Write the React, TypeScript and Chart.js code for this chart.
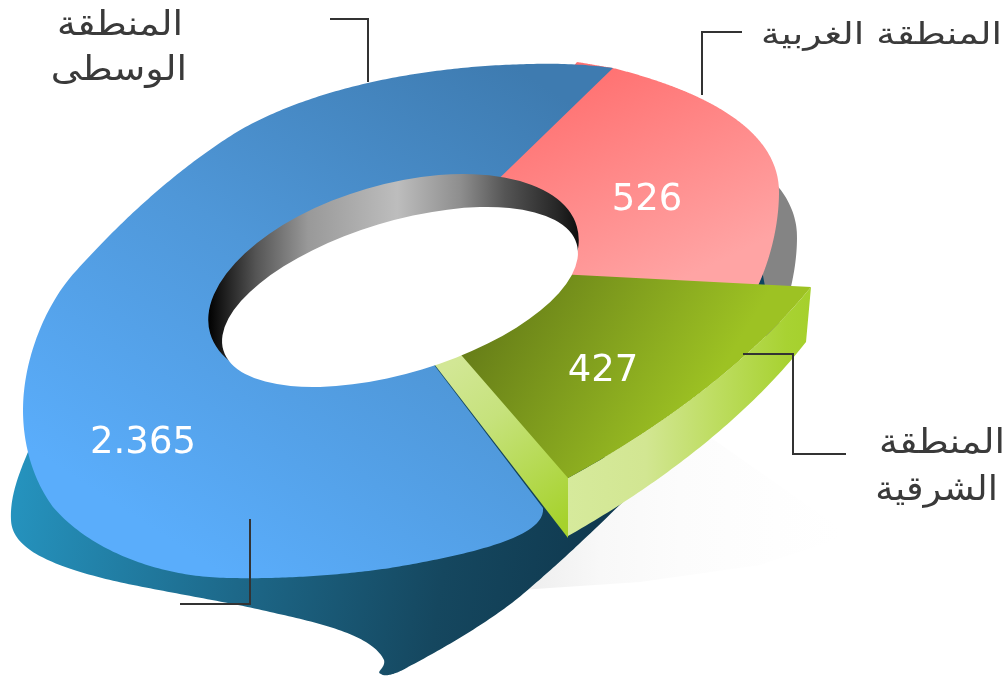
import React, { useEffect, useRef } from "react";
import { Chart, registerables } from "chart.js";

Chart.register(...registerables);

// ---- data ----
const regionKeys = ["west", "central", "east"];
const regionLabels = ["المنطقة الغربية", "المنطقة الوسطى", "المنطقة الشرقية"];
const regionValues = [526, 2365, 427];

// ---- text ----
const W = 1007;
const H = 679;
const labelFont = '400 34px "DejaVu Sans Condensed"';
const labelFontSmall = '400 30px "DejaVu Sans Condensed"';
const labelLines = [
  { text: "المنطقة الغربية", right: 1002, y: 36, font: labelFontSmall, stretch: 1.4 },
  { text: "المنطقة", right: 183, y: 26, font: labelFont, stretch: 1.24 },
  { text: "الوسطى", right: 187, y: 71, font: labelFont, stretch: 1.24 },
  { text: "المنطقة", right: 1005, y: 444, font: labelFont, stretch: 1.24 },
  { text: "الشرقية", right: 998, y: 491, font: labelFont, stretch: 1.2 },
];
const valueAnchors = [
  { x: 647, y: 200 },
  { x: 143, y: 443 },
  { x: 603, y: 371 },
];

// ---- perspective surface: where each slice's centre and rim land on the page.
// The library's arc angles pick the position along each rim.
// Rims are cubic Bezier chains: p0, c1, c2, p1, c1, c2, p2 ...
type P = [number, number];
const sliceCentres: P[] = [
  [413, 265],
  [380, 294],
  [383, 265],
];
const sliceRims: P[][] = [
  [
    [577, 62], [590, 64], [600, 66], [613, 68],
    [680, 85], [779, 120], [779, 192],
    [779, 225], [770, 262], [755, 292],
  ],
  [
    [543, 508], [546, 535], [480, 553], [390, 568],
    [335, 576], [280, 579], [230, 578],
    [150, 577], [85, 545], [53, 507],
    [33, 480], [23, 445], [23, 410],
    [23, 360], [45, 305], [75, 272],
    [120, 222], [175, 170], [240, 130],
    [320, 85], [430, 66], [530, 64],
    [565, 63], [590, 65], [613, 68],
  ],
  [[811, 287], [750, 362], [660, 428], [568, 478]],
];
const leaderLines: P[][] = [
  [[330, 19], [368, 19], [368, 82]],
  [[742, 32], [702, 32], [702, 95]],
  [[743, 354], [793, 354], [793, 454], [846, 454]],
  [[250, 519], [250, 604], [180, 604]],
];
const underside: P[] = [
  [28, 452], [16, 480], [10, 500], [11, 520],
  [12, 545], [40, 562], [102, 578],
  [150, 590], [220, 600], [270, 612],
  [320, 623], [372, 635], [384, 660],
  [386, 668], [375, 672], [381, 674],
  [386, 678], [400, 672], [408, 667],
  [450, 645], [500, 615], [530, 588],
  [560, 562], [590, 535], [650, 475],
];

function sampleBezier(pts: P[], perSeg = 40): P[] {
  const out: P[] = [pts[0]];
  for (let i = 0; i + 3 < pts.length; i += 3) {
    const [a, b, c, d] = [pts[i], pts[i + 1], pts[i + 2], pts[i + 3]];
    for (let k = 1; k <= perSeg; k++) {
      const u = k / perSeg;
      const v = 1 - u;
      const w0 = v * v * v;
      const w1 = 3 * v * v * u;
      const w2 = 3 * v * u * u;
      const w3 = u * u * u;
      out.push([w0 * a[0] + w1 * b[0] + w2 * c[0] + w3 * d[0], w0 * a[1] + w1 * b[1] + w2 * c[1] + w3 * d[1]]);
    }
  }
  return out;
}

const rimCache = new Map<P[], { line: P[]; total: number; seg: number[] }>();
function rimPoint(pts: P[], t: number): P {
  let c = rimCache.get(pts);
  if (!c) {
    const line = sampleBezier(pts);
    const seg: number[] = [];
    let total = 0;
    for (let i = 0; i + 1 < line.length; i++) {
      const l = Math.hypot(line[i + 1][0] - line[i][0], line[i + 1][1] - line[i][1]);
      seg.push(l);
      total += l;
    }
    c = { line, total, seg };
    rimCache.set(pts, c);
  }
  let s = Math.min(Math.max(t, 0), 1) * c.total;
  let i = 0;
  while (i < c.seg.length - 1 && s > c.seg[i]) {
    s -= c.seg[i];
    i++;
  }
  const u = c.seg[i] ? Math.min(s / c.seg[i], 1) : 0;
  return [
    c.line[i][0] + (c.line[i + 1][0] - c.line[i][0]) * u,
    c.line[i][1] + (c.line[i + 1][1] - c.line[i][1]) * u,
  ];
}

function grad(ctx: CanvasRenderingContext2D, x0: number, y0: number, x1: number, y1: number, stops: [number, string][]) {
  const g = ctx.createLinearGradient(x0, y0, x1, y1);
  stops.forEach(([o, c]) => g.addColorStop(o, c));
  return g;
}

function poly(ctx: CanvasRenderingContext2D, pts: P[]) {
  ctx.beginPath();
  pts.forEach((p, i) => (i ? ctx.lineTo(p[0], p[1]) : ctx.moveTo(p[0], p[1])));
  ctx.closePath();
}

function drawGreenSides(ctx: CanvasRenderingContext2D) {
  const rim = sliceRims[2];
  const top: P[] = [];
  const low: P[] = [];
  for (let i = 0; i <= 60; i++) {
    const t = i / 60;
    const p = rimPoint(rim, t);
    top.push(p);
    low.push([p[0] - 5 * (1 - t), p[1] + 55 + 3 * t]);
  }
  ctx.save();
  poly(ctx, [...top, ...low.reverse()]);
  ctx.fillStyle = grad(ctx, 568, 0, 811, 0, [
    [0, "#d6ea9c"],
    [0.32, "#d2e692"],
    [0.6, "#bedd62"],
    [0.9, "#a8d232"],
    [1, "#a5d02c"],
  ]);
  ctx.fill();
  poly(ctx, [[470, 350], [568, 474], [568, 538], [428, 356]]);
  ctx.fillStyle = grad(ctx, 450, 365, 568, 520, [
    [0, "#d2e795"],
    [0.35, "#c6e27c"],
    [1, "#a6d22c"],
  ]);
  ctx.fill();
  ctx.restore();
}

function warpElement(el: any, idx: number) {
  if (el.__warped) return;
  el.__warped = true;
  const orig = el.draw;
  el.draw = function (ctx: CanvasRenderingContext2D, area: any) {
    if (regionKeys[idx] === "east") drawGreenSides(ctx);
    const { startAngle, endAngle, outerRadius } = this;
    const centre = sliceCentres[idx];
    const rim = sliceRims[idx];
    const warp = (a: number, r: number): P => {
      const p = rimPoint(rim, (a - startAngle) / (endAngle - startAngle));
      const k = r / outerRadius;
      return [centre[0] + (p[0] - centre[0]) * k, centre[1] + (p[1] - centre[1]) * k];
    };
    const proxy = new Proxy(ctx, {
      get(target: any, key) {
        if (key === "arc") {
          return (_x: number, _y: number, r: number, s: number, e: number) => {
            for (let i = 0; i <= 200; i++) {
              const q = warp(s + ((e - s) * i) / 200, r);
              target.lineTo(q[0], q[1]);
            }
          };
        }
        if (key === "lineTo" || key === "moveTo") return () => undefined;
        const v = target[key];
        return typeof v === "function" ? v.bind(target) : v;
      },
      set(target: any, key, value) {
        target[key] = value;
        return true;
      },
    });
    orig.call(this, proxy, area);
  };
}

const backLayers = {
  id: "backLayers",
  beforeDatasetsDraw(chart: any) {
    const ctx: CanvasRenderingContext2D = chart.ctx;
    chart.getDatasetMeta(0).data.forEach((el: any, i: number) => warpElement(el, i));
    ctx.save();
    // floor shadow
    poly(ctx, [[505, 591], [640, 582], [760, 565], [850, 535], [700, 430], [600, 510]]);
    ctx.fillStyle = grad(ctx, 520, 0, 840, 0, [
      [0, "#ededed"],
      [0.25, "#f8f8f8"],
      [0.5, "#fcfcfc"],
      [0.8, "#fefefe"],
      [1, "#ffffff"],
    ]);
    ctx.fill();
    // underside of the central slice
    poly(ctx, [...sampleBezier(underside), [560, 440], [440, 350], [100, 350]]);
    ctx.fillStyle = grad(ctx, 20, 480, 590, 570, [
      [0, "#2592bd"],
      [0.4, "#1d6889"],
      [0.75, "#15475f"],
      [1, "#103a50"],
    ]);
    ctx.fill();
    // grey back wall of the western slice
    const redRim = sliceRims[0];
    const g: P[] = [];
    for (let i = 0; i <= 60; i++) {
      const p = rimPoint(redRim, 0.5 + (0.5 * i) / 60);
      g.push([p[0] + 18, p[1] + 45]);
    }
    poly(ctx, [[770, 170], ...g, [700, 330], [700, 200]]);
    ctx.fillStyle = "#848484";
    ctx.fill();
    poly(ctx, [[762, 270], [766, 292], [750, 292]]);
    ctx.fillStyle = "#0f4560";
    ctx.fill();
    ctx.restore();
  },
  afterDatasetsDraw(chart: any) {
    const ctx: CanvasRenderingContext2D = chart.ctx;
    ctx.save();
    // inner wall
    ctx.save();
    poly(ctx, [[150, 100], [640, 100], [578, 256], [229, 361], [150, 380]]);
    ctx.clip();
    ctx.beginPath();
    ctx.ellipse(393.5, 280, 191, 95.2, (-16.3 * Math.PI) / 180, 0, Math.PI * 2);
    ctx.fillStyle = grad(ctx, 208, 0, 579, 0, [
      [0, "#000000"],
      [0.13, "#555555"],
      [0.27, "#999999"],
      [0.51, "#bdbdbd"],
      [0.68, "#8e8e8e"],
      [0.8, "#555555"],
      [0.94, "#272727"],
      [1, "#0e0e0e"],
    ]);
    ctx.fill();
    ctx.restore();
    // opening
    ctx.beginPath();
    ctx.ellipse(400, 297, 184.5, 75.7, (-16.8 * Math.PI) / 180, 0, Math.PI * 2);
    ctx.fillStyle = "#ffffff";
    ctx.fill();
    ctx.restore();
  },
  afterDraw(chart: any) {
    const ctx: CanvasRenderingContext2D = chart.ctx;
    ctx.save();
    ctx.strokeStyle = "#333333";
    ctx.lineWidth = 2;
    leaderLines.forEach((line) => {
      ctx.beginPath();
      line.forEach((p, i) => (i ? ctx.lineTo(p[0], p[1]) : ctx.moveTo(p[0], p[1])));
      ctx.stroke();
    });
    ctx.fillStyle = "#3a3a3a";
    ctx.direction = "rtl";
    ctx.textAlign = "right";
    ctx.textBaseline = "middle";
    labelLines.forEach((l) => {
      ctx.save();
      ctx.font = l.font;
      ctx.translate(l.right, l.y);
      ctx.scale(l.stretch, 1);
      ctx.fillText(l.text, 0, 0);
      ctx.restore();
    });
    ctx.direction = "ltr";
    ctx.textAlign = "center";
    ctx.fillStyle = "#ffffff";
    ctx.font = '400 37px "DejaVu Sans"';
    regionValues.forEach((v, i) => {
      const text = String(v).replace(/\B(?=(\d{3})+$)/g, ".");
      ctx.fillText(text, valueAnchors[i].x, valueAnchors[i].y);
    });
    ctx.restore();
  },
};

export default function App() {
  const ref = useRef<HTMLCanvasElement | null>(null);
  useEffect(() => {
    document.body.style.margin = "0";
    const canvas = ref.current!;
    const ctx = canvas.getContext("2d")!;
    const fills = [
      grad(ctx, 560, 80, 660, 290, [
        [0, "#ff7070"],
        [1, "#ffa4a4"],
      ]),
      grad(ctx, 200, 560, 520, 70, [
        [0, "#5aadfb"],
        [0.5, "#4f97d8"],
        [1, "#3e7bb0"],
      ]),
      grad(ctx, 480, 320, 680, 440, [
        [0, "#667d18"],
        [1, "#9dc223"],
      ]),
    ];
    const chart = new Chart(canvas, {
      type: "doughnut",
      data: {
        labels: regionLabels,
        datasets: [{ data: regionValues, backgroundColor: fills, borderWidth: 0, hoverOffset: 0 }],
      },
      options: {
        responsive: false,
        animation: false,
        cutout: "25%",
        layout: { padding: 0 },
        plugins: { legend: { display: false }, tooltip: { enabled: false } },
      },
      plugins: [backLayers],
    } as any);
    return () => chart.destroy();
  }, []);
  return (
    <div style={{ position: "absolute", left: 0, top: 0, width: W, height: H, background: "#ffffff" }}>
      <canvas ref={ref} width={W} height={H} style={{ display: "block" }} />
    </div>
  );
}
